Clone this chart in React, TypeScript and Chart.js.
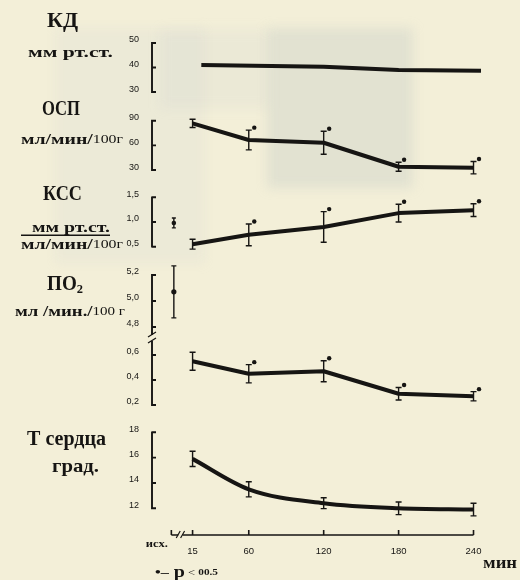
import React, { useEffect, useRef } from "react";
import { Chart, registerables } from "chart.js";

Chart.register(...registerables);

// ---------- data ----------
// time points, minutes after the start; 0 = initial (baseline) level
const TIMES = [15, 60, 120, 180, 240];
const X_TICKS = [15, 60, 120, 180, 240];
const BASELINE_TIME = 0;
const BASELINE_LABEL = "исх.";
const X_UNIT = "мин";
const SIG_NOTE = ["•–", " p", " < ", "00.5"];

// КД, мм рт.ст.
const KD_TIMES = [22, 120, 180, 246];
const KD_VALUES = [41.0, 40.3, 39.0, 38.7];
const KD_TICKS = [30, 40, 50];

// ОСП, мл/мин/100г
const OSP_VALUES = [86.8, 66.5, 63.2, 34.0, 32.8];
const OSP_ERR = [5, 12, 14, 5.5, 7.5];
const OSP_SIG = [false, true, true, true, true];
const OSP_TICKS = [30, 60, 90];

// КСС, (мм рт.ст.)/(мл/мин/100г)
const KSS_BASE = 0.98;
const KSS_BASE_ERR = 0.1;
const KSS_VALUES = [0.55, 0.74, 0.9, 1.18, 1.24];
const KSS_ERR = [0.1, 0.22, 0.31, 0.18, 0.13];
const KSS_SIG = [false, true, true, true, true];
const KSS_TICKS = [0.5, 1.0, 1.5];

// ПО2, мл/мин/100 г (broken axis)
const PO2_BASE = 5.07;
const PO2_BASE_ERR = 0.2;
const PO2_VALUES = [0.55, 0.45, 0.47, 0.29, 0.27];
const PO2_ERR = [0.072, 0.073, 0.084, 0.05, 0.037];
const PO2_SIG = [false, true, true, true, true];
const PO2_HI_TICKS = [4.8, 5.0, 5.2];
const PO2_LO_TICKS = [0.2, 0.4, 0.6];

// Т сердца, град.
const T_VALUES = [15.9, 13.5, 12.4, 12.0, 11.9];
const T_ERR = [0.6, 0.6, 0.43, 0.5, 0.5];
const T_TICKS = [12, 14, 16, 18];

// ---------- styling ----------
const INK = "#161513";
const PAPER = "#f3efd8";
const SERIF = '"Liberation Serif", "Times New Roman", serif';
const SANS = '"Liberation Sans", Arial, sans-serif';
const B = (px: number) => `bold ${px}px ${SERIF}`;
const R = (px: number) => `${px}px ${SERIF}`;

const pts = (xs: number[], ys: number[]) => xs.map((x, i) => ({ x, y: ys[i] }));
const fmt = (d: number) => (v: number | string) => Number(v).toFixed(d).replace(".", ",");

type Seg = { t: string; f: string; dy?: number };

function drawRich(ctx: CanvasRenderingContext2D, segs: Seg[], x: number, y: number, width?: number, align: "left" | "right" = "left") {
  let natural = 0;
  for (const s of segs) {
    ctx.font = s.f;
    natural += ctx.measureText(s.t).width;
  }
  const sx = width ? width / natural : 1;
  const total = natural * sx;
  ctx.save();
  ctx.translate(align === "right" ? x - total : x, y);
  ctx.scale(sx, 1);
  ctx.textAlign = "left";
  ctx.textBaseline = "middle";
  let cx = 0;
  for (const s of segs) {
    ctx.font = s.f;
    ctx.fillText(s.t, cx, s.dy || 0);
    cx += ctx.measureText(s.t).width;
  }
  ctx.restore();
}

// panel titles, placed relative to the top tick of each panel's axis
const TITLES = [
  { axis: "yKD", tick: 50, lines: [
    { x: 47, dy: -21, w: 31, segs: [{ t: "КД", f: B(20) }] },
    { x: 28, dy: 10, w: 85, segs: [{ t: "мм рт.ст.", f: B(15) }] },
  ] },
  { axis: "yOSP", tick: 90, lines: [
    { x: 42, dy: -11, w: 38, segs: [{ t: "ОСП", f: B(20) }] },
    { x: 21, dy: 19, w: 102, segs: [{ t: "мл/мин/", f: B(15) }, { t: "100г", f: R(12) }] },
  ] },
  { axis: "yKSS", tick: 1.5, bar: { x0: 21, x1: 110, dy: 38 }, lines: [
    { x: 43, dy: -2, w: 39, segs: [{ t: "КСС", f: B(20) }] },
    { x: 32, dy: 31, w: 78, segs: [{ t: "мм рт.ст.", f: B(15) }] },
    { x: 21, dy: 48, w: 102, segs: [{ t: "мл/мин/", f: B(15) }, { t: "100г", f: R(12) }] },
  ] },
  { axis: "yPO2hi", tick: 5.2, lines: [
    { x: 47, dy: 10, w: 36, segs: [{ t: "ПО", f: B(20) }, { t: "2", f: B(13), dy: 5 }] },
    { x: 15, dy: 37, w: 110, segs: [{ t: "мл /мин./", f: B(15) }, { t: "100 г", f: R(12) }] },
  ] },
  { axis: "yT", tick: 18, lines: [
    { x: 27, dy: 8, w: 79, segs: [{ t: "Т сердца", f: B(20) }] },
    { x: 52, dy: 35, w: 47, segs: [{ t: "град.", f: B(19) }] },
  ] },
];

const BRACKETS = [
  { id: "yKD", ticks: KD_TICKS },
  { id: "yOSP", ticks: OSP_TICKS },
  { id: "yKSS", ticks: KSS_TICKS },
  { id: "yPO2hi", ticks: PO2_HI_TICKS, breakBelow: true },
  { id: "yPO2lo", ticks: PO2_LO_TICKS, breakAbove: true },
  { id: "yT", ticks: T_TICKS },
];

// paper tone with the faint show-through of the reverse page
const paperPlugin = {
  id: "paper",
  beforeDraw(chart: any) {
    const { ctx, width, height } = chart;
    ctx.save();
    ctx.fillStyle = PAPER;
    ctx.fillRect(0, 0, width, height);
    ctx.filter = "blur(6px)";
    ctx.fillStyle = "rgba(196,204,206,0.13)";
    ctx.fillRect(55, 28, 150, 235);
    ctx.fillStyle = "rgba(188,198,204,0.14)";
    ctx.fillRect(160, 30, 108, 78);
    ctx.fillStyle = "rgba(170,182,190,0.24)";
    ctx.fillRect(267, 28, 146, 160);
    ctx.restore();
  },
};

const errorBarPlugin = {
  id: "errorBars",
  afterDatasetsDraw(chart: any) {
    const { ctx } = chart;
    const xs = chart.scales.x;
    ctx.save();
    ctx.strokeStyle = INK;
    ctx.fillStyle = INK;
    ctx.lineWidth = 1.4;
    chart.data.datasets.forEach((ds: any) => {
      const err: number[] | undefined = ds.errorBars;
      if (!err) return;
      const ys = chart.scales[ds.yAxisID];
      ds.data.forEach((p: { x: number; y: number }, i: number) => {
        const x = xs.getPixelForValue(p.x);
        const yT = ys.getPixelForValue(p.y + err[i]);
        const yB = ys.getPixelForValue(p.y - err[i]);
        const cap = ds.capHalf ?? 3;
        ctx.beginPath();
        ctx.moveTo(x, yT);
        ctx.lineTo(x, yB);
        ctx.moveTo(x - cap, yT);
        ctx.lineTo(x + cap, yT);
        ctx.moveTo(x - cap, yB);
        ctx.lineTo(x + cap, yB);
        ctx.stroke();
        if (ds.significant && ds.significant[i]) {
          ctx.beginPath();
          ctx.arc(x + 5.5, yT - 2.5, 2.2, 0, Math.PI * 2);
          ctx.fill();
        }
      });
    });
    ctx.restore();
  },
};

const axesPlugin = {
  id: "panelAxes",
  afterDraw(chart: any) {
    const { ctx, chartArea: area } = chart;
    const xs = chart.scales.x;
    ctx.save();
    ctx.strokeStyle = INK;
    ctx.fillStyle = INK;
    ctx.lineCap = "butt";

    // bracket-style y axes
    ctx.lineWidth = 1.9;
    const bx = area.left;
    for (const b of BRACKETS) {
      const s = chart.scales[b.id];
      let top = s.getPixelForValue(Math.max(...b.ticks));
      let bot = s.getPixelForValue(Math.min(...b.ticks));
      if (b.breakBelow) bot = s.bottom - 4;
      if (b.breakAbove) top = s.top + 4;
      ctx.beginPath();
      ctx.moveTo(bx, top - 0.9);
      ctx.lineTo(bx, bot + 0.9);
      for (const v of b.ticks) {
        const y = s.getPixelForValue(v);
        ctx.moveTo(bx, y);
        ctx.lineTo(bx + 4, y);
      }
      ctx.stroke();
    }
    // break of the ПО2 axis
    const brk = chart.scales.yPO2hi.bottom;
    ctx.lineWidth = 1.3;
    ctx.beginPath();
    ctx.moveTo(bx - 4, brk - 1);
    ctx.lineTo(bx + 4, brk - 6);
    ctx.moveTo(bx - 4, brk + 5);
    ctx.lineTo(bx + 4, brk);
    ctx.stroke();

    // time axis with a break after the baseline
    const ay = area.bottom;
    const xl = xs.getPixelForValue(-2);
    const g0 = xs.getPixelForValue(3.5);
    const g1 = xs.getPixelForValue(7);
    const xr = xs.getPixelForValue(X_TICKS[X_TICKS.length - 1]);
    ctx.lineWidth = 1.6;
    ctx.beginPath();
    ctx.moveTo(xl, ay);
    ctx.lineTo(g0, ay);
    ctx.moveTo(g1, ay);
    ctx.lineTo(xr, ay);
    ctx.moveTo(xl, ay);
    ctx.lineTo(xl, ay - 5);
    for (const t of X_TICKS) {
      const x = xs.getPixelForValue(t);
      ctx.moveTo(x, ay);
      ctx.lineTo(x, ay - 5);
    }
    ctx.stroke();
    ctx.lineWidth = 1.2;
    ctx.beginPath();
    ctx.moveTo(g0 - 2, ay + 3);
    ctx.lineTo(g0 + 2, ay - 4);
    ctx.moveTo(g1 - 2, ay + 3);
    ctx.lineTo(g1 + 2, ay - 4);
    ctx.stroke();

    // axis captions
    drawRich(ctx, [{ t: BASELINE_LABEL, f: B(11) }], xs.getPixelForValue(BASELINE_TIME) - 6, ay + 9, 22, "right");
    drawRich(ctx, [{ t: X_UNIT, f: B(16) }], area.right + 31, ay + 29, 34, "right");
    drawRich(
      ctx,
      [
        { t: SIG_NOTE[0], f: B(13) },
        { t: SIG_NOTE[1], f: B(16) },
        { t: SIG_NOTE[2], f: R(10) },
        { t: SIG_NOTE[3], f: B(9) },
      ],
      area.left + 3,
      ay + 38,
      63
    );

    // panel titles
    for (const ttl of TITLES) {
      const s = chart.scales[ttl.axis];
      const y0 = s.getPixelForValue(ttl.tick);
      for (const ln of ttl.lines) drawRich(ctx, ln.segs, ln.x, y0 + ln.dy, ln.w);
      if ((ttl as any).bar) {
        const bar = (ttl as any).bar;
        ctx.lineWidth = 1.5;
        ctx.beginPath();
        ctx.moveTo(bar.x0, y0 + bar.dy);
        ctx.lineTo(bar.x1, y0 + bar.dy);
        ctx.stroke();
      }
    }
    ctx.restore();
  },
};

// stacked y axes, one band per panel (top to bottom by weight)
function panelAxis(ticks: number[], decimals: number, min: number, max: number, band: number, order: number) {
  return {
    type: "linear",
    position: "left",
    stack: "panels",
    stackWeight: band,
    weight: order,
    min,
    max,
    afterBuildTicks: (s: any) => {
      s.ticks = ticks.map((v) => ({ value: v }));
    },
    afterFit: (s: any) => {
      s.width = 152;
    },
    grid: { display: false },
    border: { display: false },
    ticks: {
      color: INK,
      padding: 5,
      labelOffset: -3,
      font: { family: SANS, size: 9 },
      callback: fmt(decimals),
    },
  };
}

const lineStyle = {
  borderColor: INK,
  borderWidth: 4,
  pointRadius: 0,
  borderJoinStyle: "round",
  tension: 0,
  fill: false,
};

export default function App() {
  const ref = useRef<HTMLCanvasElement>(null);

  useEffect(() => {
    if (!ref.current) return;
    const chart = new Chart(ref.current, {
      type: "line",
      data: {
        datasets: [
          { ...lineStyle, yAxisID: "yKD", data: pts(KD_TIMES, KD_VALUES) },
          {
            ...lineStyle, yAxisID: "yOSP", data: pts(TIMES, OSP_VALUES),
            errorBars: OSP_ERR, significant: OSP_SIG,
          },
          {
            yAxisID: "yKSS", data: pts([BASELINE_TIME], [KSS_BASE]), showLine: false,
            pointRadius: 2.3, pointBorderWidth: 0, pointBackgroundColor: INK,
            errorBars: [KSS_BASE_ERR], capHalf: 2,
          },
          {
            ...lineStyle, yAxisID: "yKSS", data: pts(TIMES, KSS_VALUES),
            errorBars: KSS_ERR, significant: KSS_SIG,
          },
          {
            yAxisID: "yPO2hi", data: pts([BASELINE_TIME], [PO2_BASE]), showLine: false,
            pointRadius: 2.6, pointBorderWidth: 0, pointBackgroundColor: INK,
            errorBars: [PO2_BASE_ERR], capHalf: 2.5,
          },
          {
            ...lineStyle, yAxisID: "yPO2lo", data: pts(TIMES, PO2_VALUES),
            errorBars: PO2_ERR, significant: PO2_SIG,
          },
          {
            ...lineStyle, yAxisID: "yT", data: pts(TIMES, T_VALUES),
            cubicInterpolationMode: "monotone", errorBars: T_ERR,
          },
        ] as any,
      },
      options: {
        animation: false,
        responsive: false,
        events: [],
        layout: { padding: { top: 36, right: 34, left: 0, bottom: 0 } },
        plugins: { legend: { display: false }, tooltip: { enabled: false } },
        scales: {
          x: {
            type: "linear",
            position: "bottom",
            min: -17.5,
            max: 250,
            afterBuildTicks: (s: any) => {
              s.ticks = X_TICKS.map((v) => ({ value: v }));
            },
            afterFit: (s: any) => {
              s.height = 45;
            },
            grid: { display: false },
            border: { display: false },
            ticks: { color: INK, padding: 3, maxRotation: 0, font: { family: SANS, size: 9.5 } },
          },
          yKD: panelAxis(KD_TICKS, 0, 24.3, 52.86, 70, 6),
          yOSP: panelAxis(OSP_TICKS, 0, 14.2, 107.9, 77, 5),
          yKSS: panelAxis(KSS_TICKS, 1, 0.251, 1.789, 76, 4),
          yPO2hi: panelAxis(PO2_HI_TICKS, 1, 4.715, 5.323, 79, 3),
          yPO2lo: panelAxis(PO2_LO_TICKS, 1, 0.08, 0.736, 82, 2),
          yT: panelAxis(T_TICKS, 0, 9.89, 18.97, 115, 1),
        } as any,
      },
      plugins: [paperPlugin, errorBarPlugin, axesPlugin],
    });
    return () => chart.destroy();
  }, []);

  return (
    <div style={{ position: "absolute", left: 0, top: 0, width: 520, height: 580 }}>
      <canvas ref={ref} width={520} height={580} style={{ display: "block" }} />
    </div>
  );
}
